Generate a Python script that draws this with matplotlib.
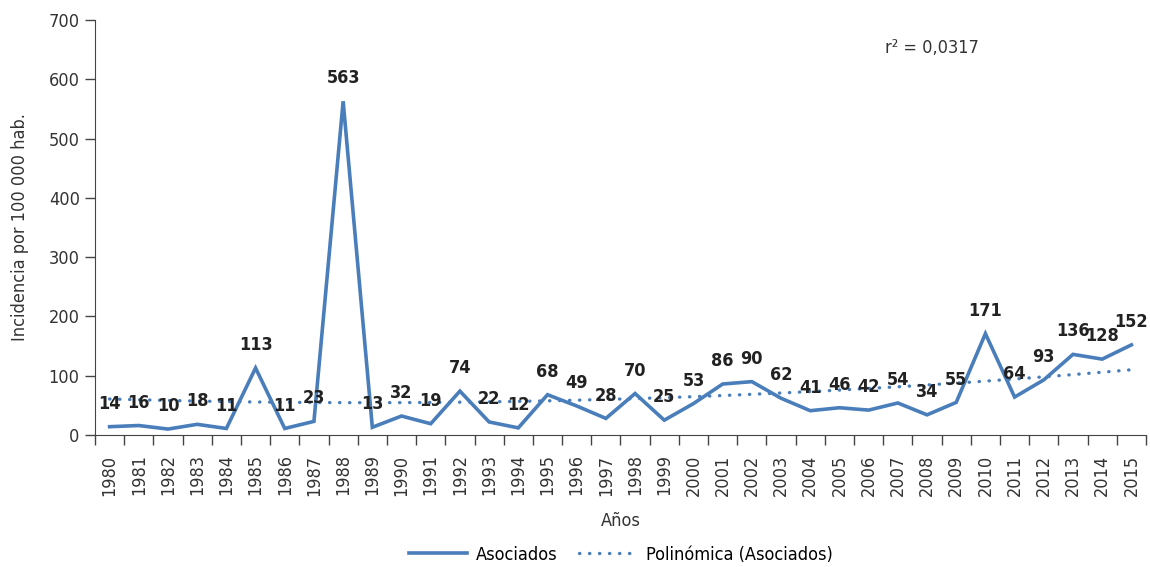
import matplotlib
matplotlib.use("Agg")
import matplotlib.pyplot as plt
import numpy as np

years = list(range(1980, 2016))
values = [14, 16, 10, 18, 11, 113, 11, 23, 563, 13, 32, 19, 74, 22, 12, 68, 49, 28,
          70, 25, 53, 86, 90, 62, 41, 46, 42, 54, 34, 55, 171, 64, 93, 136, 128, 152]
yticks = [0, 100, 200, 300, 400, 500, 600, 700]

plt.rcParams['font.family'] = ['DejaVu Sans']
plt.rcParams['font.stretch'] = 'condensed'

blue = "#4a7ebb"
txt = "#333333"
fig = plt.figure(figsize=(11.5, 5.67), dpi=100)
ax = fig.add_axes([0.0826, 0.2328, 0.9139, 0.7319])

x = np.arange(len(years))
l1, = ax.plot(x, values, color=blue, lw=2.6, solid_joinstyle='miter', zorder=3)
coef = np.polyfit(x, values, 2)
trend = np.polyval(coef, x)
l2, = ax.plot(x, trend, color=blue, lw=2.4, linestyle=(0, (0.1, 2.9)),
              dash_capstyle='round', zorder=2)

for xi, v in zip(x, values):
    ax.annotate(str(v), (xi, v), xytext=(0, 10), textcoords='offset points',
                ha='center', va='bottom', fontsize=13, fontweight='bold',
                color='#222222', zorder=4)

ax.set_xlim(-0.5, len(years) - 0.5)
ax.set_ylim(0, 700)
ax.set_yticks(yticks)
ax.set_yticklabels([str(t) for t in yticks], fontsize=13, color=txt)
ax.set_xticks(x)
ax.set_xticklabels([str(y) for y in years], rotation=90, fontsize=13, color=txt)
ax.tick_params(axis='x', which='major', length=0, pad=14)
ax.set_xticks(np.arange(-0.5, len(years)), minor=True)
ax.tick_params(axis='x', which='minor', length=7, width=1, color='#444444')
ax.tick_params(axis='y', length=7, width=1, color='#444444', pad=4)
for s in ['top', 'right']:
    ax.spines[s].set_visible(False)
for s in ['left', 'bottom']:
    ax.spines[s].set_color('#444444')

ax.set_ylabel("Incidencia por 100 000 hab.", fontsize=13, color=txt, labelpad=14)
ax.set_xlabel("Años", fontsize=13, color=txt, labelpad=12)

ax.text(0.752, 0.92, "r² = 0,0317", transform=ax.transAxes, fontsize=13, color=txt)

fig.legend(handles=[l1, l2], labels=["Asociados", "Polinómica (Asociados)"],
           loc='center', bbox_to_anchor=(0.54, 0.022), ncol=2, frameon=False,
           fontsize=13, handlelength=3.2, columnspacing=1.2, handletextpad=0.5)
fig.savefig("out.png", dpi=100)
